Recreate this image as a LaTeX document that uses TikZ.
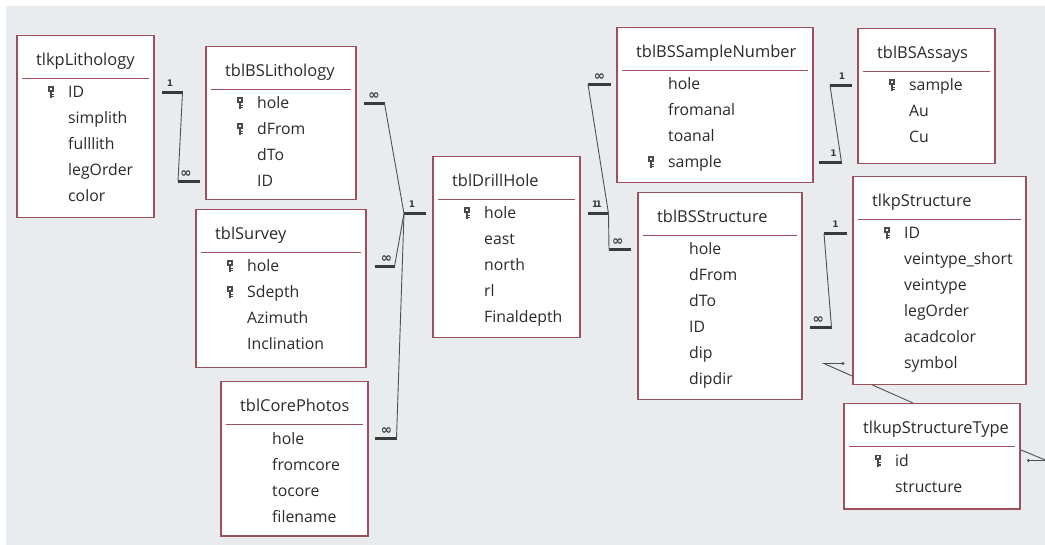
\documentclass[tikz,border=0pt]{standalone}
\usepackage{fontspec}
\setmainfont{Open Sans}
\newfontfamily\cardfont{DejaVu Sans}
\usetikzlibrary{positioning,calc,backgrounds}

\definecolor{paneback}{HTML}{E9ECEF}
\definecolor{tableedge}{HTML}{A0505C}
\definecolor{fieldtext}{HTML}{2A2A2A}
\definecolor{barcol}{HTML}{3A3A3A}
\definecolor{linkcol}{HTML}{505050}
\definecolor{keycol}{HTML}{4A4A4A}

\begin{document}
\begin{tikzpicture}[x=1pt,y=-1pt,
    tablebox/.style={rectangle,draw=tableedge,fill=white,line width=1.5pt,anchor=north west,inner sep=0pt},
    tabletitle/.style={anchor=base west,inner sep=0pt,text=fieldtext,font=\fontsize{16.4}{18}\selectfont},
    field/.style={anchor=base west,inner sep=0pt,text=fieldtext,font=\fontsize{15.8}{18}\selectfont},
    sepline/.style={draw=tableedge,line width=1.3pt},
    endbar/.style={draw=barcol,line width=3pt},
    relline/.style={draw=linkcol,line width=0.9pt},
    card/.style={inner sep=0pt,text=barcol,font=\cardfont\bfseries\fontsize{9}{9}\selectfont},
    many/.style={card,font=\cardfont\bfseries\fontsize{13.5}{13.5}\selectfont},
    keyicon/.pic={
      \fill[keycol] (-2.8,-6) rectangle (2.8,-0.5);
      \fill[white] (-0.9,-4.6) rectangle (0.9,-2.8);
      \fill[keycol] (-1.2,-0.5) rectangle (1.2,6);
      \fill[keycol] (1.2,1.5) rectangle (2.6,2.7);
      \fill[keycol] (1.2,3.8) rectangle (2.6,5);
    }
  ]
  \useasboundingbox (0,0) rectangle (1045,545);
  \begin{scope}[on background layer]
    \fill[paneback] (6,6) rectangle (1045,545);
  \end{scope}

  % tlkpLithology
  \node[tablebox,minimum width=137pt,minimum height=182pt] (lith) at (16,35) {};
  \node[tabletitle] (lith-t) at ($(lith.north west)+(20,30.5)$) {tlkpLithology};
  \draw[sepline] ($(lith.north west)+(6,43.5)$) -- ($(lith.north east)+(-6,43.5)$);
  \foreach \f [count=\i] in {ID,simplith,fulllith,legOrder,color}{
    \coordinate (lith-r\i) at ($(lith.north west)+(0,31.5+26*\i)$);
    \node[field] (lith-\i) at ($(lith-r\i)+(52,5.5)$) {\f};
  }
  \pic at ($(lith-r1)+(35,0)$) {keyicon};

  % tblBSLithology
  \node[tablebox,minimum width=150pt,minimum height=153pt] (bsl) at (205,46) {};
  \node[tabletitle] (bsl-t) at ($(bsl.north west)+(20,30.5)$) {tblBSLithology};
  \draw[sepline] ($(bsl.north west)+(6,43.5)$) -- ($(bsl.north east)+(-6,43.5)$);
  \foreach \f [count=\i] in {hole,dFrom,dTo,ID}{
    \coordinate (bsl-r\i) at ($(bsl.north west)+(0,31.5+26*\i)$);
    \node[field] (bsl-\i) at ($(bsl-r\i)+(52,5.5)$) {\f};
  }
  \pic at ($(bsl-r1)+(35,0)$) {keyicon};
  \pic at ($(bsl-r2)+(35,0)$) {keyicon};

  % tblSurvey
  \node[tablebox,minimum width=170pt,minimum height=158pt] (surv) at (195,209) {};
  \node[tabletitle] (surv-t) at ($(surv.north west)+(20,30.5)$) {tblSurvey};
  \draw[sepline] ($(surv.north west)+(6,43.5)$) -- ($(surv.north east)+(-6,43.5)$);
  \foreach \f [count=\i] in {hole,Sdepth,Azimuth,Inclination}{
    \coordinate (surv-r\i) at ($(surv.north west)+(0,31.5+26*\i)$);
    \node[field] (surv-\i) at ($(surv-r\i)+(52,5.5)$) {\f};
  }
  \pic at ($(surv-r1)+(35,0)$) {keyicon};
  \pic at ($(surv-r2)+(35,0)$) {keyicon};

  % tblCorePhotos
  \node[tablebox,minimum width=147pt,minimum height=154pt] (core) at (220,381) {};
  \node[tabletitle] (core-t) at ($(core.north west)+(20,30.5)$) {tblCorePhotos};
  \draw[sepline] ($(core.north west)+(6,43.5)$) -- ($(core.north east)+(-6,43.5)$);
  \foreach \f [count=\i] in {hole,fromcore,tocore,filename}{
    \coordinate (core-r\i) at ($(core.north west)+(0,31.5+26*\i)$);
    \node[field] (core-\i) at ($(core-r\i)+(52,5.5)$) {\f};
  }

  % tblDrillHole
  \node[tablebox,minimum width=147pt,minimum height=181pt] (drill) at (432,156) {};
  \node[tabletitle] (drill-t) at ($(drill.north west)+(20,30.5)$) {tblDrillHole};
  \draw[sepline] ($(drill.north west)+(6,43.5)$) -- ($(drill.north east)+(-6,43.5)$);
  \foreach \f [count=\i] in {hole,east,north,rl,Finaldepth}{
    \coordinate (drill-r\i) at ($(drill.north west)+(0,31.5+26*\i)$);
    \node[field] (drill-\i) at ($(drill-r\i)+(52,5.5)$) {\f};
  }
  \pic at ($(drill-r1)+(35,0)$) {keyicon};

  % tblBSSampleNumber
  \node[tablebox,minimum width=196pt,minimum height=155pt] (samp) at (616,27) {};
  \node[tabletitle] (samp-t) at ($(samp.north west)+(20,30.5)$) {tblBSSampleNumber};
  \draw[sepline] ($(samp.north west)+(6,43.5)$) -- ($(samp.north east)+(-6,43.5)$);
  \foreach \f [count=\i] in {hole,fromanal,toanal,sample}{
    \coordinate (samp-r\i) at ($(samp.north west)+(0,31.5+26*\i)$);
    \node[field] (samp-\i) at ($(samp-r\i)+(52,5.5)$) {\f};
  }
  \pic at ($(samp-r4)+(35,0)$) {keyicon};

  % tblBSAssays
  \node[tablebox,minimum width=137pt,minimum height=135pt] (assay) at (857,28) {};
  \node[tabletitle] (assay-t) at ($(assay.north west)+(20,30.5)$) {tblBSAssays};
  \draw[sepline] ($(assay.north west)+(6,43.5)$) -- ($(assay.north east)+(-6,43.5)$);
  \foreach \f [count=\i] in {sample,Au,Cu}{
    \coordinate (assay-r\i) at ($(assay.north west)+(0,31.5+26*\i)$);
    \node[field] (assay-\i) at ($(assay-r\i)+(52,5.5)$) {\f};
  }
  \pic at ($(assay-r1)+(35,0)$) {keyicon};

  % tblBSStructure
  \node[tablebox,minimum width=164pt,minimum height=207pt] (bsst) at (637,192) {};
  \node[tabletitle] (bsst-t) at ($(bsst.north west)+(20,30.5)$) {tblBSStructure};
  \draw[sepline] ($(bsst.north west)+(6,43.5)$) -- ($(bsst.north east)+(-6,43.5)$);
  \foreach \f [count=\i] in {hole,dFrom,dTo,ID,dip,dipdir}{
    \coordinate (bsst-r\i) at ($(bsst.north west)+(0,31.5+26*\i)$);
    \node[field] (bsst-\i) at ($(bsst-r\i)+(52,5.5)$) {\f};
  }

  % tlkpStructure
  \node[tablebox,minimum width=173pt,minimum height=208pt] (tstr) at (852,176) {};
  \node[tabletitle] (tstr-t) at ($(tstr.north west)+(20,30.5)$) {tlkpStructure};
  \draw[sepline] ($(tstr.north west)+(6,43.5)$) -- ($(tstr.north east)+(-6,43.5)$);
  \foreach \f [count=\i] in {ID,veintype\_short,veintype,legOrder,acadcolor,symbol}{
    \coordinate (tstr-r\i) at ($(tstr.north west)+(0,31.5+26*\i)$);
    \node[field] (tstr-\i) at ($(tstr-r\i)+(52,5.5)$) {\f};
  }
  \pic at ($(tstr-r1)+(35,0)$) {keyicon};

  % tlkupStructureType
  \node[tablebox,minimum width=176pt,minimum height=105pt] (stype) at (843,403) {};
  \node[tabletitle] (stype-t) at ($(stype.north west)+(20,30.5)$) {tlkupStructureType};
  \draw[sepline] ($(stype.north west)+(6,43.5)$) -- ($(stype.north east)+(-6,43.5)$);
  \foreach \f [count=\i] in {id,structure}{
    \coordinate (stype-r\i) at ($(stype.north west)+(0,31.5+26*\i)$);
    \node[field] (stype-\i) at ($(stype-r\i)+(52,5.5)$) {\f};
  }
  \pic at ($(stype-r1)+(35,0)$) {keyicon};

  % relationships
  \begin{scope}[on background layer]
    \draw[endbar] ($(lith.east |- lith-r1)+(7,0)$) -- node[card,above=4pt,pos=.4]{1} ++(21,0) coordinate (lith-e);
    \draw[endbar] ($(bsl.west |- bsl-r4)+(-5,0)$) -- node[many,above=2.5pt,pos=.64]{∞} ++(-22,0) coordinate (bsl-w);
    \draw[relline] (lith-e) -- (bsl-w);

    \draw[endbar] ($(drill.west |- drill-r1)+(-6,0)$) -- node[card,above=4pt,pos=.64]{1} ++(-22,0) coordinate (drill-w);
    \draw[endbar] ($(bsl.east |- bsl-r1)+(7,0)$) -- node[many,above=2.5pt,pos=.5]{∞} ++(21,0) coordinate (bsl-e);
    \draw[endbar] ($(surv.east |- surv-r1)+(8,0)$) -- node[many,above=2.5pt,pos=.6]{∞} ++(20,0) coordinate (surv-e);
    \draw[endbar] ($(core.east |- core-r1)+(6,0)$) -- node[many,above=2.5pt,pos=.55]{∞} ++(22,0) coordinate (core-e);
    \draw[relline] (bsl-e) -- (drill-w);
    \draw[relline] (surv-e) -- (drill-w);
    \draw[relline] (core-e) -- (drill-w);

    \draw[endbar] ($(drill.east |- drill-r1)+(7,0)$) -- node[card,above=4pt,pos=.45]{1\kern-2.6pt1} ++(21,0) coordinate (drill-e);
    \draw[endbar] ($(samp.west |- samp-r1)+(-5,0)$) -- node[many,above=2.5pt,pos=.5]{∞} ++(-23,0) coordinate (samp-w);
    \draw[endbar] ($(bsst.west |- bsst-r1)+(-6,0)$) -- node[many,above=2.5pt,pos=.6]{∞} ++(-22,0) coordinate (bsst-w);
    \draw[relline] (drill-e) -- (samp-w);
    \draw[relline] (drill-e) -- (bsst-w);

    \draw[endbar] ($(samp.east |- samp-r4)+(5,0)$) -- node[card,above=4pt,pos=.65]{1} ++(23,0) coordinate (samp-e);
    \draw[endbar] ($(assay.west |- assay-r1)+(-5,0)$) -- node[card,above=4pt,pos=.45]{1} ++(-22,0) coordinate (assay-w);
    \draw[relline] (samp-e) -- (assay-w);

    \draw[endbar] ($(bsst.east |- bsst-r4)+(7,0)$) -- node[many,above=2.5pt,pos=.4]{∞} ++(22,0) coordinate (bsst-e);
    \draw[endbar] ($(tstr.west |- tstr-r1)+(-5,0)$) -- node[card,above=4pt,pos=.5]{1} ++(-23,0) coordinate (tstr-w);
    \draw[relline] (bsst-e) -- (tstr-w);

    \coordinate (tstr-dot) at ($(tstr.west |- tstr-r6)+(-9,0)$);
    \draw[relline] (tstr-dot) -- ++(-19,0) -- ($(stype.north west)+(70,0)$);
    \fill[linkcol] (tstr-dot) circle (1.7pt);
    \coordinate (stype-dot) at ($(stype.east |- stype-r1)+(8,0)$);
    \draw[relline] (stype-dot) -- ++(18,0) -- ($(stype.east)+(0,-6.5)$);
    \fill[linkcol] (stype-dot) circle (1.7pt);
  \end{scope}
\end{tikzpicture}
\end{document}
